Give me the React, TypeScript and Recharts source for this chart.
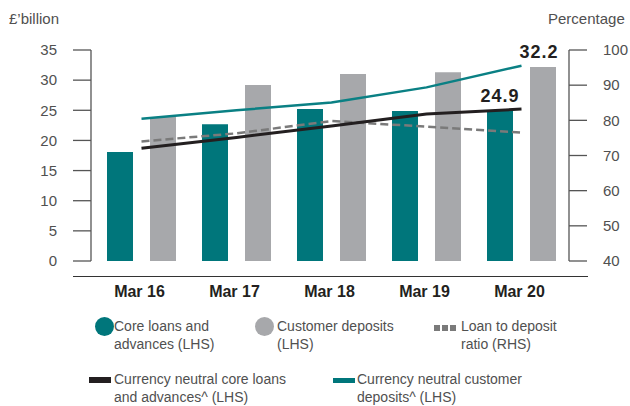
import * as React from 'react';
import { ComposedChart, Bar, Line, XAxis, YAxis, LabelList } from 'recharts';

const periods = ['Mar 16', 'Mar 17', 'Mar 18', 'Mar 19', 'Mar 20'];
const coreLoans = [18.1, 22.7, 25.2, 24.9, 24.9];
const customerDeposits = [23.9, 29.2, 31.0, 31.3, 32.2];
const loanToDeposit = [74.0, 76.3, 79.8, 78.2, 76.5];
const neutralCoreLoans = [18.7, 20.5, 22.4, 24.4, 25.2];
const neutralDeposits = [23.6, 25.0, 26.3, 28.8, 32.4];
const leftTicks = [0, 5, 10, 15, 20, 25, 30, 35];
const rightTicks = [40, 50, 60, 70, 80, 90, 100];

const data = periods.map((p, i) => ({
  name: p,
  core: coreLoans[i],
  deposits: customerDeposits[i],
  ratio: loanToDeposit[i],
  ncore: neutralCoreLoans[i],
  ndeposits: neutralDeposits[i],
}));

const TEAL = '#00767b';
const GREY = '#a7a8ab';
const FONT = '"Liberation Sans", Arial, sans-serif';
const TEXT = '#505050';

// only the latest period gets a value label
const lastLabel = (shift: number) => (props: any) => {
  const { x, y, width, value, index } = props;
  if (index !== periods.length - 1) return null;
  return (
    <text
      x={x + width / 2 + shift}
      y={y - 9}
      textAnchor="middle"
      fontSize={18}
      fontWeight="bold"
      letterSpacing={1}
      fill="#231f20"
      fontFamily={FONT}
    >
      {value}
    </text>
  );
};

const XTick = (props: any) => {
  const { x, y, payload } = props;
  return (
    <text x={x - 2} y={y} dy="0.71em" textAnchor="middle" fontSize={16} fontWeight="bold" fill="#231f20" fontFamily={FONT}>
      {payload.value}
    </text>
  );
};

const legendText: React.CSSProperties = {
  position: 'absolute',
  fontSize: 14,
  lineHeight: '17.7px',
  color: TEXT,
  fontFamily: FONT,
  whiteSpace: 'nowrap',
};

const Legend = () => (
  <>
    <div style={{ position: 'absolute', left: 94.5, top: 317, width: 19, height: 19, borderRadius: '50%', background: TEAL }} />
    <div style={{ ...legendText, left: 114, top: 318 }}>Core loans and<br />advances (LHS)</div>

    <div style={{ position: 'absolute', left: 255, top: 316.5, width: 19, height: 19, borderRadius: '50%', background: GREY }} />
    <div style={{ ...legendText, left: 277, top: 318 }}>Customer deposits<br />(LHS)</div>

    {[0, 8, 16].map((d) => (
      <div key={d} style={{ position: 'absolute', left: 434 + d, top: 324.5, width: 6, height: 6, background: '#7a7a7a' }} />
    ))}
    <div style={{ ...legendText, left: 461, top: 318 }}>Loan to deposit<br />ratio (RHS)</div>

    <div style={{ position: 'absolute', left: 89, top: 377, width: 22, height: 5.5, background: '#231f20' }} />
    <div style={{ ...legendText, left: 114, top: 371 }}>Currency neutral core loans<br />and advances^ (LHS)</div>

    <div style={{ position: 'absolute', left: 333, top: 377.5, width: 22, height: 5.5, background: TEAL }} />
    <div style={{ ...legendText, left: 357, top: 371 }}>Currency neutral customer<br />deposits^ (LHS)</div>
  </>
);

export default function App() {
  return (
    <div style={{ position: 'absolute', left: 0, top: 0, width: 630, height: 406, background: '#fff' }}>
      <div style={{ position: 'absolute', left: 9, top: 10, fontSize: 15, color: TEXT, fontFamily: FONT }}>£’billion</div>
      <div style={{ position: 'absolute', left: 548, top: 10, fontSize: 15, color: TEXT, fontFamily: FONT }}>Percentage</div>
      <ComposedChart
        width={630}
        height={406}
        data={data}
        margin={{ top: 50, right: 0, left: 0, bottom: 115 }}
        barSize={26}
        barGap={17}
      >
        <XAxis
          dataKey="name"
          axisLine={false}
          tickLine={false}
          tickSize={18}
          tickMargin={7}
          height={30}
          padding={{ left: 3, right: 0 }}
          tick={<XTick />}
          interval={0}
        />
        <YAxis
          yAxisId="left"
          orientation="left"
          width={91}
          domain={[0, 35]}
          ticks={leftTicks}
          tickSize={18}
          tickMargin={16}
          axisLine={{ stroke: '#555', strokeWidth: 1.3 }}
          tickLine={{ stroke: '#555', strokeWidth: 1.3 }}
          tick={{ fill: TEXT, fontSize: 15, fontFamily: FONT }}
        />
        <YAxis
          yAxisId="right"
          orientation="right"
          width={61}
          domain={[40, 100]}
          ticks={rightTicks}
          tickSize={18}
          tickMargin={16}
          axisLine={{ stroke: '#555', strokeWidth: 1.3 }}
          tickLine={{ stroke: '#555', strokeWidth: 1.3 }}
          tick={{ fill: TEXT, fontSize: 15, fontFamily: FONT }}
        />
        <Bar yAxisId="left" dataKey="core" fill={TEAL} isAnimationActive={false}>
          <LabelList dataKey="core" content={lastLabel(0)} />
        </Bar>
        <Bar yAxisId="left" dataKey="deposits" fill={GREY} isAnimationActive={false}>
          <LabelList dataKey="deposits" content={lastLabel(-4)} />
        </Bar>
        <Line
          yAxisId="right"
          dataKey="ratio"
          type="linear"
          stroke="#7a7a7a"
          strokeWidth={2.5}
          strokeDasharray="8 4"
          dot={false}
          activeDot={false}
          isAnimationActive={false}
        />
        <Line
          yAxisId="left"
          dataKey="ncore"
          type="linear"
          stroke="#231f20"
          strokeWidth={3}
          dot={false}
          activeDot={false}
          isAnimationActive={false}
        />
        <Line
          yAxisId="left"
          dataKey="ndeposits"
          type="linear"
          stroke="#0a8084"
          strokeWidth={2.5}
          dot={false}
          activeDot={false}
          isAnimationActive={false}
        />
      </ComposedChart>
      <div style={{ position: 'absolute', left: 73, top: 275.5, width: 515, height: 1, background: '#333' }} />
      <Legend />
    </div>
  );
}
